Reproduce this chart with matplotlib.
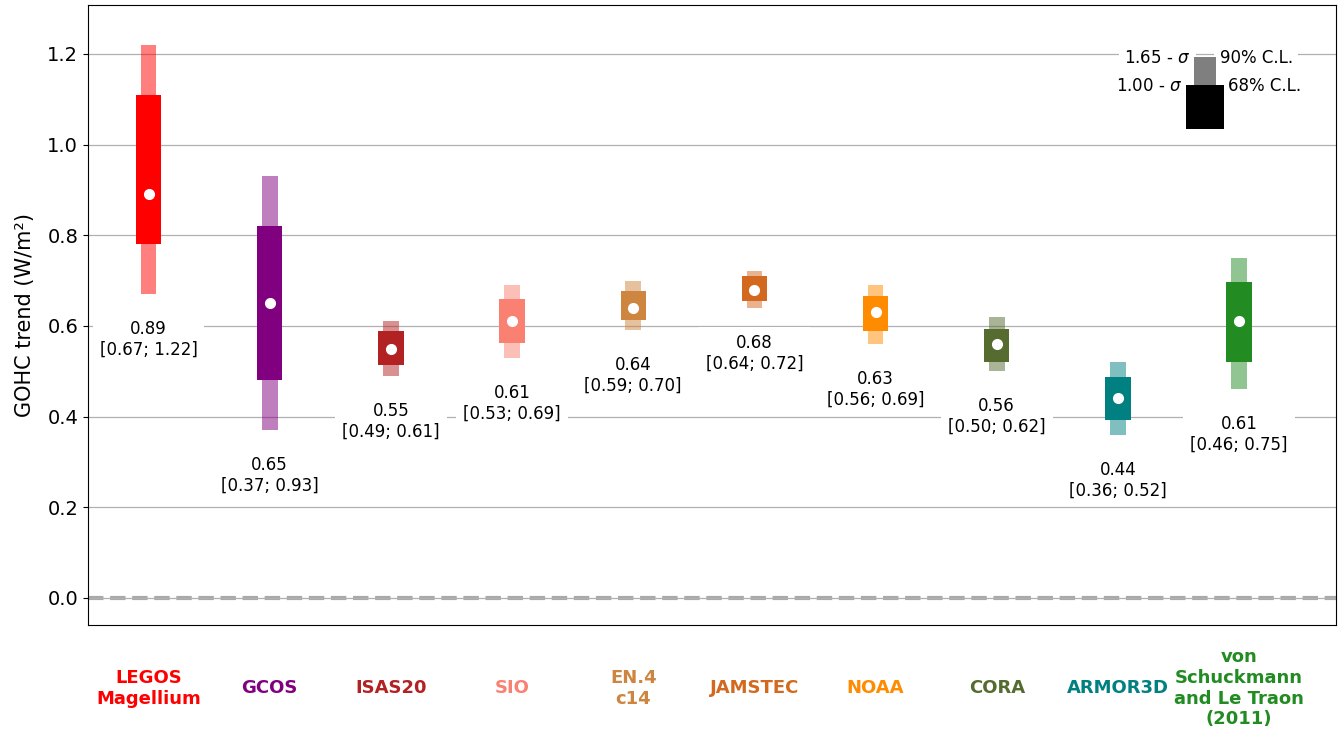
import numpy as np
import matplotlib
matplotlib.use("Agg")
import matplotlib.pyplot as plt
from matplotlib.transforms import blended_transform_factory

names = ["LEGOS\nMagellium", "GCOS", "ISAS20", "SIO", "EN.4\nc14", "JAMSTEC",
         "NOAA", "CORA", "ARMOR3D", "von\nSchuckmann\nand Le Traon\n(2011)"]
colors = ["red", "purple", "firebrick", "salmon", "peru", "chocolate",
          "darkorange", "darkolivegreen", "teal", "forestgreen"]

trend = [0.89, 0.65, 0.55, 0.61, 0.64, 0.68, 0.63, 0.56, 0.44, 0.61]
# 90% confidence bounds
lo90 = [0.67, 0.37, 0.49, 0.53, 0.59, 0.64, 0.56, 0.50, 0.36, 0.46]
hi90 = [1.22, 0.93, 0.61, 0.69, 0.70, 0.72, 0.69, 0.62, 0.52, 0.75]
# 68% confidence bounds
lo68 = [0.78, 0.48, 0.514, 0.562, 0.613, 0.655, 0.589, 0.521, 0.393, 0.521]
hi68 = [1.11, 0.82, 0.588, 0.66, 0.677, 0.709, 0.666, 0.593, 0.487, 0.697]

fig = plt.figure(figsize=(13.43, 7.36), dpi=100)
ax = fig.add_axes([0.0655, 0.1508, 0.9293, 0.8424])

x = np.arange(len(names))
ax.grid(axis="y", color="#b0b0b0", lw=0.9, zorder=0)
ax.axhline(0, color="darkgrey", lw=3, ls="--", zorder=1)

for i in x:
    c = colors[i]
    ax.bar(i, hi90[i] - lo90[i], bottom=lo90[i], width=0.13, color=c,
           alpha=0.5, zorder=2)
    ax.bar(i, hi68[i] - lo68[i], bottom=lo68[i], width=0.21, color=c, zorder=3)
    ax.plot(i, trend[i], "o", color="white", ms=7, zorder=4)
    ax.text(i, lo90[i] - 0.1, "%.2f\n[%.2f; %.2f]" % (trend[i], lo90[i], hi90[i]),
            ha="center", va="center", fontsize=12, zorder=5,
            bbox=dict(facecolor="white", edgecolor="none", pad=5))

# legend for confidence levels
lx = 8.72
ax.text(lx - 0.12, 1.19, r"1.65 - $\sigma$", ha="right", va="center", fontsize=12,
        bbox=dict(facecolor="white", edgecolor="none", pad=4), zorder=5)
ax.text(lx + 0.12, 1.19, "90% C.L.", ha="left", va="center", fontsize=12,
        bbox=dict(facecolor="white", edgecolor="none", pad=4), zorder=5)
ax.text(lx - 0.185, 1.13, r"1.00 - $\sigma$", ha="right", va="center", fontsize=12,
        zorder=5)
ax.text(lx + 0.185, 1.13, "68% C.L.", ha="left", va="center", fontsize=12, zorder=5)
ax.bar(lx, 1.194 - 1.10, bottom=1.10, width=0.18, color="black", alpha=0.5, zorder=6)
ax.bar(lx, 1.132 - 1.034, bottom=1.034, width=0.31, color="black", zorder=7)

trans = blended_transform_factory(ax.transData, ax.transAxes)
for i in x:
    ax.text(i, -0.102, names[i], transform=trans, ha="center", va="center",
            fontsize=13, fontweight="bold", color=colors[i])

ax.set_xlim(-0.5, 9.8)
ax.set_ylim(-0.06, 1.308)
ax.set_xticks([])
ax.set_yticks(np.arange(0, 1.21, 0.2))
ax.tick_params(axis="y", labelsize=14)
ax.set_ylabel("GOHC trend (W/m²)", fontsize=15, labelpad=9)

fig.savefig("out.png", dpi=100)
